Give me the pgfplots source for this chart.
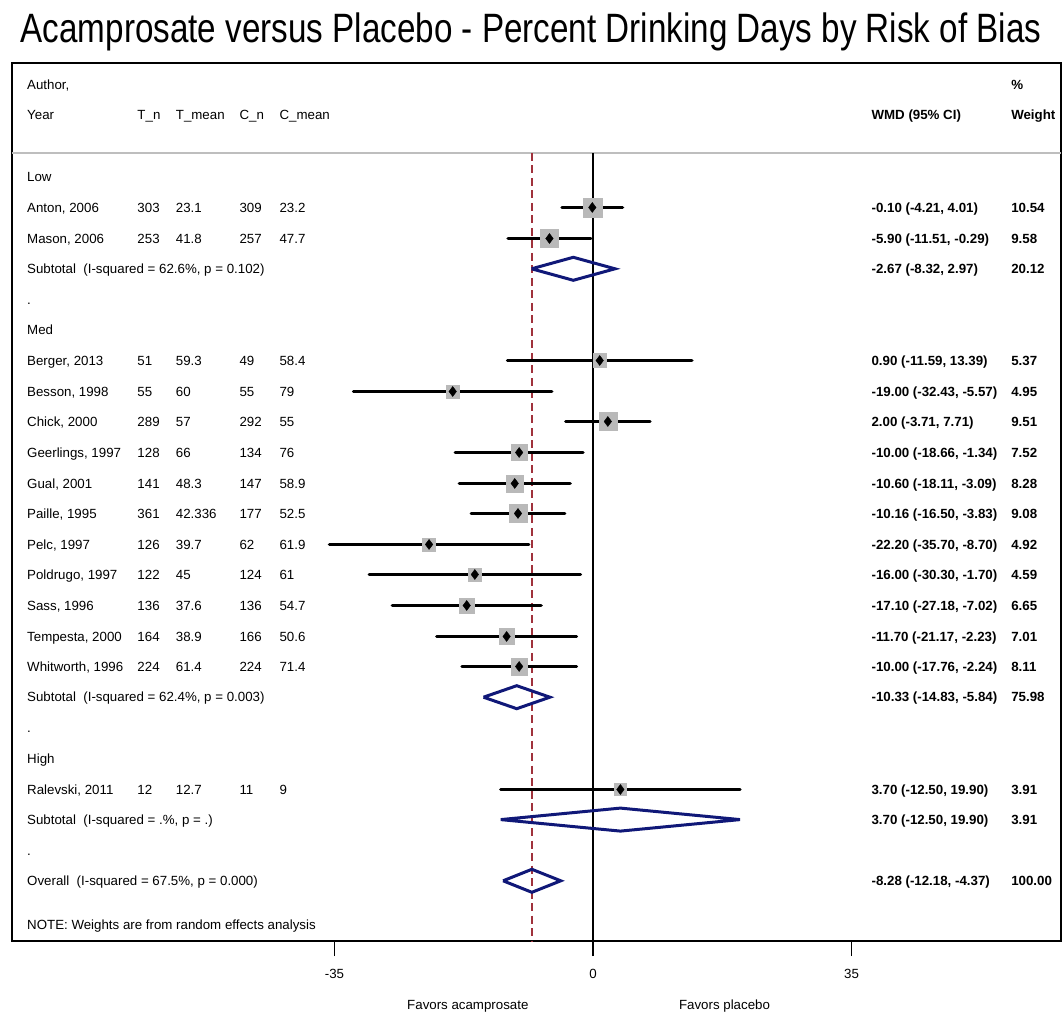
\documentclass[border=0pt]{standalone}
\usepackage{fontspec}
\setmainfont{Liberation Sans}
\newfontfamily\titlefont[FakeStretch=0.81]{Liberation Sans}
\usepackage{pgfplots}
\pgfplotsset{compat=1.18}
\usepackage{pgfplotstable}
\definecolor{sqgray}{RGB}{185,185,185}
\definecolor{dnavy}{RGB}{16,24,120}
\definecolor{refred}{RGB}{160,50,60}
\definecolor{sepgray}{RGB}{190,190,190}

\pgfplotstableread{
y est w
-207.5 -0.10 10.54
-238.5 -5.90 9.58
-360.5 0.90 5.37
-391.5 -19.00 4.95
-421.5 2.00 9.51
-452.5 -10.00 7.52
-483.5 -10.60 8.28
-513.5 -10.16 9.08
-544.5 -22.20 4.92
-574.5 -16.00 4.59
-605.5 -17.10 6.65
-636.5 -11.70 7.01
-666.5 -10.00 8.11
-789.5 3.70 3.91
}\studies

% confidence intervals: lower and upper limit of each study, rows separated by nan
\pgfplotstableread{
x y
-4.21 -207.5
4.01 -207.5
nan nan
-11.51 -238.5
-0.29 -238.5
nan nan
-11.59 -360.5
13.39 -360.5
nan nan
-32.43 -391.5
-5.57 -391.5
nan nan
-3.71 -421.5
7.71 -421.5
nan nan
-18.66 -452.5
-1.34 -452.5
nan nan
-18.11 -483.5
-3.09 -483.5
nan nan
-16.50 -513.5
-3.83 -513.5
nan nan
-35.70 -544.5
-8.70 -544.5
nan nan
-30.30 -574.5
-1.70 -574.5
nan nan
-27.18 -605.5
-7.02 -605.5
nan nan
-21.17 -636.5
-2.23 -636.5
nan nan
-17.76 -666.5
-2.24 -666.5
nan nan
-12.50 -789.5
19.90 -789.5
}\cis

\newcommand\cA{-76.63}
\newcommand\cTn{-61.70}
\newcommand\cTm{-56.50}
\newcommand\cCn{-47.88}
\newcommand\cCm{-42.47}
\newcommand\cW{37.68}
\newcommand\cP{56.59}
\newcommand\fs{\fontsize{13.3}{16}\selectfont}

\newcommand\study[8]{%
 \node[txt] at (axis cs:\cA,#1) {#2};
 \node[txt] at (axis cs:\cTn,#1) {#3};
 \node[txt] at (axis cs:\cTm,#1) {#4};
 \node[txt] at (axis cs:\cCn,#1) {#5};
 \node[txt] at (axis cs:\cCm,#1) {#6};
 \node[txtb] at (axis cs:\cW,#1) {#7};
 \node[txtb] at (axis cs:\cP,#1) {#8};
}
\newcommand\lrow[4]{% y, left text, wmd, weight
 \node[txt] at (axis cs:\cA,#1) {#2};
 \node[txtb] at (axis cs:\cW,#1) {#3};
 \node[txtb] at (axis cs:\cP,#1) {#4};
}

\begin{document}
\begin{tikzpicture}[
 txt/.style={anchor=base west, inner sep=0pt, yshift=-4.8pt, font=\fs},
 txtb/.style={anchor=base west, inner sep=0pt, yshift=-4.8pt, font=\fs\bfseries}]
\useasboundingbox (-12pt,-74pt) rectangle (1051pt,941pt);
\begin{axis}[
 at={(0,0)}, anchor=south west,
 scale only axis, width=1049pt, height=878pt,
 xmin=-78.66, xmax=63.36, ymin=-941, ymax=-63,
 axis line style={line width=1.6pt},
 xtick={-35,0,35}, ytick=\empty,
 xtick pos=bottom, tick align=outside, major tick length=15pt,
 tick style={line width=1.6pt, black},
 /pgf/number format/assume math mode=true,
 xticklabel style={font=\fs, anchor=north, yshift=-10pt},
 unbounded coords=jump,
 clip=false,
]
% title
\node[anchor=base, inner sep=0pt, font=\titlefont\fontsize{41}{48}\selectfont] at (axis cs:-8.39,-43) {Acamprosate versus Placebo - Percent Drinking Days by Risk of Bias};

% separator
\addplot[sepgray, line width=1.8pt] coordinates {(-78.66,-153) (63.36,-153)};
% no-effect line and overall line
\addplot[black, line width=1.5pt] coordinates {(0,-153) (0,-941)};
\addplot[refred, line width=1.5pt, dash pattern=on 8pt off 4.5pt] coordinates {(-8.28,-153) (-8.28,-941)};

% weight boxes
\addplot[only marks, mark=square*, scatter, point meta=\thisrow{w},
  scatter/use mapped color={draw=sqgray, fill=sqgray},
  visualization depends on={2.95*sqrt(\thisrow{w}) \as \msz},
  scatter/@pre marker code/.append style={/tikz/mark size=\msz}]
  table[x=est, y=y] {\studies};

% confidence intervals
\addplot[black, line width=3.2pt, line cap=round, mark=none] table[x=x, y=y] {\cis};

% point estimates
\addplot[only marks, mark=diamond*, mark size=5pt, black, mark options={line width=0.4pt}]
  table[x=est, y=y] {\studies};

% pooled diamonds
\addplot[dnavy, line width=3pt, line join=miter] coordinates {(-8.32,-268.8) (-2.67,-257.3) (2.97,-268.8) (-2.67,-280.3) (-8.32,-268.8)};
\addplot[dnavy, line width=3pt, line join=miter] coordinates {(-14.83,-697.2) (-10.33,-685.7) (-5.84,-697.2) (-10.33,-708.7) (-14.83,-697.2)};
\addplot[dnavy, line width=3pt, line join=miter] coordinates {(-12.50,-819.6) (3.70,-808.1) (19.90,-819.6) (3.70,-831.1) (-12.50,-819.6)};
\addplot[dnavy, line width=3pt, line join=miter] coordinates {(-12.18,-880.8) (-8.28,-869.3) (-4.37,-880.8) (-8.28,-892.3) (-12.18,-880.8)};

% header
\node[txt] at (axis cs:\cA,-85) {Author,};
\node[txtb] at (axis cs:\cP,-85) {\%};
\study{-115}{Year}{T\_n}{T\_mean}{C\_n}{C\_mean}{WMD (95\% CI)}{Weight}

% rows
\node[txt] at (axis cs:\cA,-177) {Low};
\study{-207.5}{Anton, 2006}{303}{23.1}{309}{23.2}{-0.10 (-4.21, 4.01)}{10.54}
\study{-238.5}{Mason, 2006}{253}{41.8}{257}{47.7}{-5.90 (-11.51, -0.29)}{9.58}
\lrow{-268.8}{Subtotal\ \ (I-squared = 62.6\%, p = 0.102)}{-2.67 (-8.32, 2.97)}{20.12}
\node[txt] at (axis cs:\cA,-299.4) {.};
\node[txt] at (axis cs:\cA,-330) {Med};
\study{-360.5}{Berger, 2013}{51}{59.3}{49}{58.4}{0.90 (-11.59, 13.39)}{5.37}
\study{-391.5}{Besson, 1998}{55}{60}{55}{79}{-19.00 (-32.43, -5.57)}{4.95}
\study{-421.5}{Chick, 2000}{289}{57}{292}{55}{2.00 (-3.71, 7.71)}{9.51}
\study{-452.5}{Geerlings, 1997}{128}{66}{134}{76}{-10.00 (-18.66, -1.34)}{7.52}
\study{-483.5}{Gual, 2001}{141}{48.3}{147}{58.9}{-10.60 (-18.11, -3.09)}{8.28}
\study{-513.5}{Paille, 1995}{361}{42.336}{177}{52.5}{-10.16 (-16.50, -3.83)}{9.08}
\study{-544.5}{Pelc, 1997}{126}{39.7}{62}{61.9}{-22.20 (-35.70, -8.70)}{4.92}
\study{-574.5}{Poldrugo, 1997}{122}{45}{124}{61}{-16.00 (-30.30, -1.70)}{4.59}
\study{-605.5}{Sass, 1996}{136}{37.6}{136}{54.7}{-17.10 (-27.18, -7.02)}{6.65}
\study{-636.5}{Tempesta, 2000}{164}{38.9}{166}{50.6}{-11.70 (-21.17, -2.23)}{7.01}
\study{-666.5}{Whitworth, 1996}{224}{61.4}{224}{71.4}{-10.00 (-17.76, -2.24)}{8.11}
\lrow{-697.2}{Subtotal\ \ (I-squared = 62.4\%, p = 0.003)}{-10.33 (-14.83, -5.84)}{75.98}
\node[txt] at (axis cs:\cA,-727.8) {.};
\node[txt] at (axis cs:\cA,-758.4) {High};
\study{-789.5}{Ralevski, 2011}{12}{12.7}{11}{9}{3.70 (-12.50, 19.90)}{3.91}
\lrow{-819.6}{Subtotal\ \ (I-squared = .\%, p = .)}{3.70 (-12.50, 19.90)}{3.91}
\node[txt] at (axis cs:\cA,-850.2) {.};
\lrow{-880.8}{Overall\ \ (I-squared = 67.5\%, p = 0.000)}{-8.28 (-12.18, -4.37)}{100.00}
\node[txt] at (axis cs:\cA,-925) {NOTE: Weights are from random effects analysis};

% favours labels
\node[anchor=base, inner sep=0pt, font=\fs] at (axis cs:-16.95,-1009.8) {Favors acamprosate};
\node[anchor=base, inner sep=0pt, font=\fs] at (axis cs:17.8,-1009.8) {Favors placebo};
\end{axis}
\end{tikzpicture}
\end{document}
